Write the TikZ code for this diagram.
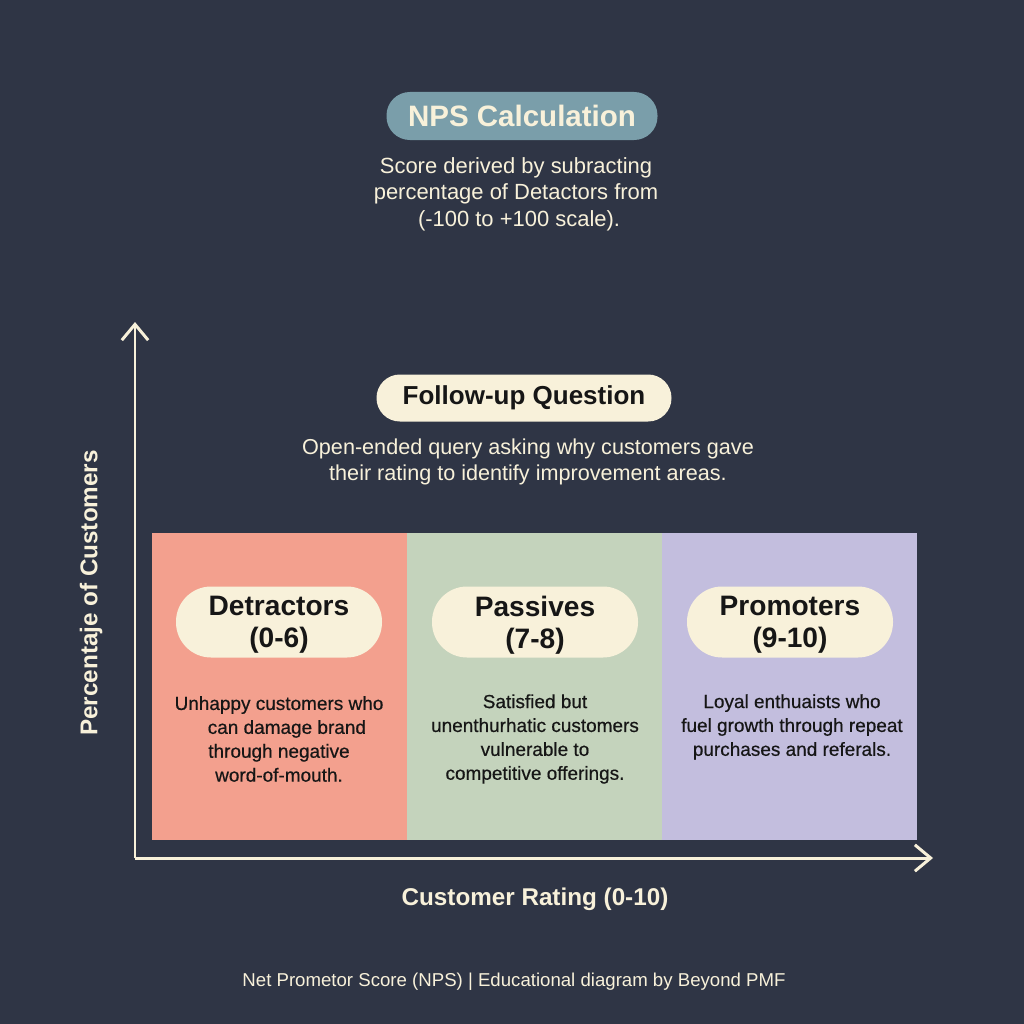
\documentclass[tikz,border=0pt]{standalone}
\usepackage{fontspec}
\setmainfont{Liberation Sans}
\newfontfamily\mediumfont[FakeBold=0.5]{Liberation Sans}
\usepackage{xcolor}
\usetikzlibrary{arrows.meta, positioning}

\definecolor{bgslate}{RGB}{47,53,69}
\definecolor{cream}{RGB}{248,241,218}
\definecolor{pillteal}{RGB}{122,158,170}
\definecolor{salmon}{RGB}{243,160,142}
\definecolor{sage}{RGB}{196,211,188}
\definecolor{lavender}{RGB}{195,190,222}
\definecolor{inkblack}{RGB}{22,22,22}

\begin{document}
\begin{tikzpicture}[x=0.02cm,y=-0.02cm,
  pill/.style={rounded corners=13.3pt, inner sep=0pt, font=\bfseries\fontsize{16.8}{19}\selectfont},
  catpill/.style={fill=cream, rounded corners=20pt, inner sep=0pt, minimum width=206*0.02cm,
    minimum height=71*0.02cm, align=center, text=inkblack, text depth=0pt,
    font=\bfseries\fontsize{16}{18}\selectfont},
  band/.style={inner sep=0pt, minimum width=255*0.02cm, minimum height=307*0.02cm},
  desc/.style={align=center, text=cream, font=\fontsize{12.3}{15}\selectfont},
  catdesc/.style={align=center, text=inkblack, font=\mediumfont\fontsize{10.8}{13.6}\selectfont},
  axislabel/.style={text=cream, font=\bfseries\fontsize{13.8}{16}\selectfont},
  axis/.style={draw=cream, line width=1.7pt, -{Straight Barb[length=9pt,width=15pt,line width=1.7pt]}}]

% background and frame
\fill[bgslate] (0,0) rectangle (1024,1024);
\useasboundingbox (0,0) rectangle (1024,1024);

% NPS calculation
\node[pill, fill=pillteal, text=cream, minimum width=271*0.02cm, minimum height=48*0.02cm]
  (npstitle) at (522,116) {NPS Calculation};
\node[desc, font=\fontsize{12.5}{15}\selectfont] (npsdesc) at (516,194)
  {Score derived by subracting\\percentage of Detactors from\\\ (-100 to +100 scale).};

% Follow-up question
\node[pill, fill=cream, text=inkblack, minimum width=295*0.02cm, minimum height=47*0.02cm,
  font=\bfseries\fontsize{14.8}{17}\selectfont] (followup) at (524,398) {Follow-up Question};
\node[desc] (followdesc) at (528,462)
  {Open-ended query asking why customers gave\\their rating to identify improvement areas.};

% Rating bands
\node[band, fill=salmon] (detband) at (279.5,686.5) {};
\node[band, fill=sage] (pasband) at (534.5,686.5) {};
\node[band, fill=lavender] (proband) at (789.5,686.5) {};

\node[catpill] (detpill) at (279,622) {Detractors\\(0-6)};
\node[catpill] (paspill) at (535,622) {Passives\\(7-8)};
\node[catpill] (propill) at (790,622) {Promoters\\(9-10)};

\node[catdesc] (detdesc) at (279,739)
  {Unhappy customers who\\\ \ \ can damage brand\\through negative\\word-of-mouth.};
\node[catdesc] (pasdesc) at (535,739)
  {Satisfied but\\unenthurhatic customers\\vulnerable to\\competitive offerings.};
\node[catdesc] (prodesc) at (792,727)
  {Loyal enthuaists who\\fuel growth through repeat\\purchases and referals.};

% Axes
\coordinate (origin) at (135,858);
\coordinate (ytop) at (135,322);
\coordinate (xend) at (933,858);
\draw[axis] (origin) -- (ytop);
\draw[axis] (origin) -- (xend);
\node[axislabel, rotate=90] (ylabel) at (91,593) {Percentaje of Customers};
\node[axislabel] (xlabel) at (535,899) {Customer Rating (0-10)};

% Footer
\node[text=cream, font=\fontsize{10.6}{13}\selectfont] (footer) at (514,982)
  {Net Prometor Score (NPS) | Educational diagram by Beyond PMF};

\end{tikzpicture}
\end{document}
